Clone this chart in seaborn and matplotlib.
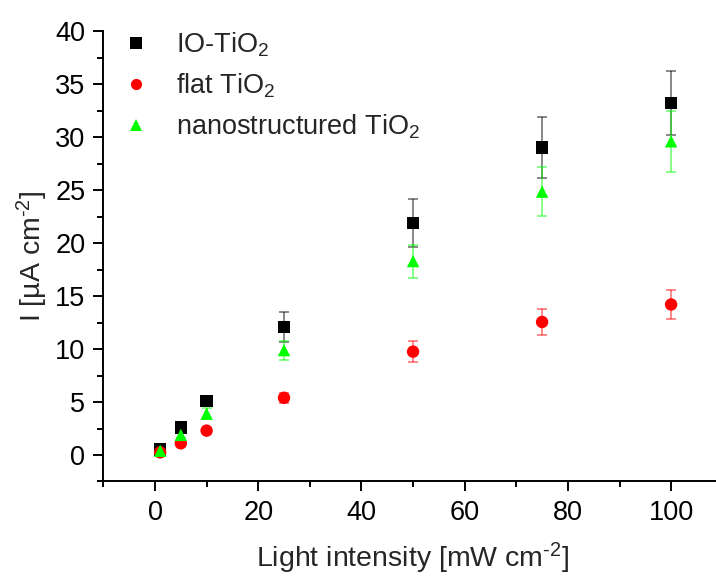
import numpy as np
import pandas as pd
import matplotlib
matplotlib.use("Agg")
import matplotlib.pyplot as plt
import seaborn as sns

# Light intensity levels [mW cm^-2]
intensity = [1, 5, 10, 25, 50, 75, 100]

# Photocurrent density [uA cm^-2] and standard deviations
io_tio2 = [0.5, 2.6, 5.1, 12.1, 21.9, 29.0, 33.2]
io_tio2_err = [0.3, 0.3, 0.5, 1.4, 2.3, 2.9, 3.0]
flat_tio2 = [0.25, 1.1, 2.3, 5.4, 9.75, 12.55, 14.2]
flat_tio2_err = [0.2, 0.2, 0.2, 0.45, 0.97, 1.2, 1.37]
nano_tio2 = [0.4, 1.9, 3.9, 9.9, 18.3, 24.85, 29.6]
nano_tio2_err = [0.3, 0.3, 0.5, 0.9, 1.56, 2.3, 2.9]

labels = ["IO-TiO$_2$", "flat TiO$_2$", "nanostructured TiO$_2$"]
colors = ["#000000", "#ff0000", "#00ff00"]
markers = ["s", "o", "^"]

df = pd.concat([
    pd.DataFrame({"x": intensity, "y": io_tio2, "err": io_tio2_err, "sample": labels[0]}),
    pd.DataFrame({"x": intensity, "y": flat_tio2, "err": flat_tio2_err, "sample": labels[1]}),
    pd.DataFrame({"x": intensity, "y": nano_tio2, "err": nano_tio2_err, "sample": labels[2]}),
], ignore_index=True)

sns.set_style("ticks")
plt.rcParams["font.family"] = ["Liberation Sans", "DejaVu Sans"]
plt.rcParams["mathtext.fontset"] = "custom"
plt.rcParams["mathtext.rm"] = "Liberation Sans"
plt.rcParams["mathtext.it"] = "Liberation Sans:italic"
plt.rcParams["mathtext.default"] = "regular"

fig = plt.figure(figsize=(7.16, 5.79), dpi=100)
ax = fig.add_axes([0.1444, 0.1684, 0.865, 0.778])

# error bars, drawn semi-transparent beneath the markers
for lab, col in zip(labels, colors):
    sub = df[df["sample"] == lab]
    ax.errorbar(sub["x"], sub["y"], yerr=sub["err"], fmt="none",
                ecolor=col, alpha=0.5, elinewidth=1.3, capsize=3.3,
                capthick=1.3, zorder=2)

sns.scatterplot(data=df, x="x", y="y", hue="sample", style="sample",
                hue_order=labels, style_order=labels,
                palette=dict(zip(labels, colors)),
                markers=dict(zip(labels, markers)),
                s=80, edgecolor="none", linewidth=0, ax=ax, zorder=3)

ax.set_xlim(-10, 110)
ax.set_ylim(-2.5, 40)
ax.set_xticks([0, 20, 40, 60, 80, 100])
ax.set_xticks(np.arange(-10, 111, 10), minor=True)
ax.set_yticks(np.arange(0, 41, 5))
ax.set_yticks(np.arange(-2.5, 40.1, 2.5), minor=True)

for side in ["top", "right"]:
    ax.spines[side].set_visible(False)
for side in ["left", "bottom"]:
    ax.spines[side].set_linewidth(1.4)
    ax.spines[side].set_color("black")

ax.tick_params(axis="both", which="major", direction="out", length=7,
               width=1.4, labelsize=19.5, colors="black", pad=6)
ax.tick_params(axis="both", which="minor", direction="out", length=4,
               width=1.4, colors="black")

ax.set_xlabel(r"Light intensity [mW cm$^{\text{-2}}$]", fontsize=20.5, labelpad=11)
ax.set_ylabel(r"I [µA cm$^{\text{-2}}$]", fontsize=20.5, labelpad=4)

handles, lbls = ax.get_legend_handles_labels()
leg = ax.legend(handles, lbls, loc="upper left", frameon=False, fontsize=19.5,
                bbox_to_anchor=(-0.03, 1.055), handletextpad=0.45,
                labelspacing=0.45, markerscale=0.9)

fig.savefig("out.png", dpi=100)
